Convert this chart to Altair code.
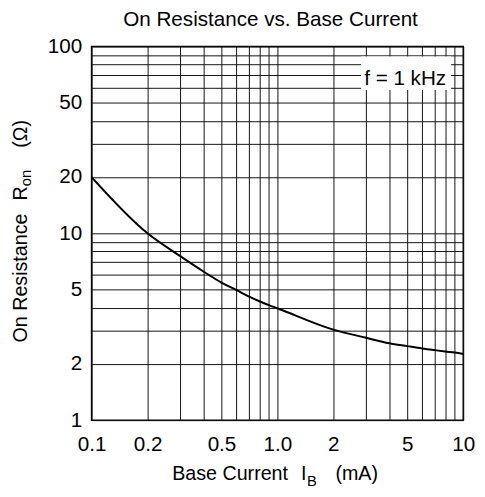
import altair as alt
import pandas as pd

# ---- data ----
current_ma = [0.1, 0.2, 0.3, 0.4, 0.5, 0.6, 0.7, 0.8, 0.9, 1.0, 2, 3, 4, 5, 6, 7, 8, 9, 10]
resistance = [20.0, 10.0, 7.55, 6.25, 5.45, 4.98, 4.6, 4.33, 4.13, 3.97, 3.05, 2.76, 2.58, 2.49, 2.42, 2.37, 2.33, 2.30, 2.26]

x_grid = [0.1, 0.2, 0.3, 0.4, 0.5, 0.6, 0.7, 0.8, 0.9, 1, 2, 3, 4, 5, 6, 7, 8, 9, 10]
y_grid = [1, 2, 3, 4, 5, 6, 7, 8, 9, 10, 20, 30, 40, 50, 60, 70, 80, 90, 100]
x_label_values = [0.1, 0.2, 0.5, 1, 2, 5, 10]
x_label_texts = ["0.1", "0.2", "0.5", "1.0", "2", "5", "10"]
y_label_values = [1, 2, 5, 10, 20, 50, 100]
y_label_texts = ["1", "2", "5", "10", "20", "50", "100"]

title_text = "On Resistance vs. Base Current"
note_text = "f = 1 kHz"

FONT = "Liberation Sans"
W, H = 378, 380


def label_expr(values, texts):
    expr = "''"
    for v, t in zip(reversed(values), reversed(texts)):
        expr = f"datum.value == {v} ? '{t}' : ({expr})"
    return expr


df = pd.DataFrame({"I": current_ma, "R": resistance})

xscale = alt.Scale(type="log", domain=[0.1, 10], nice=False)
yscale = alt.Scale(type="log", domain=[1, 100], nice=False)

xaxis = alt.Axis(
    values=x_grid, labelExpr=label_expr(x_label_values, x_label_texts), title=None,
    grid=True, gridColor="#111", gridWidth=1, gridOpacity=1, ticks=False, tickSize=0,
    domain=False, labelFont=FONT, labelFontSize=21, labelColor="#000",
    labelPadding=14, labelFlush=False, labelOverlap=False,
)
yaxis = alt.Axis(
    values=y_grid, labelExpr=label_expr(y_label_values, y_label_texts), title=None,
    grid=True, gridColor="#111", gridWidth=1, gridOpacity=1, ticks=False, tickSize=0,
    domain=False, labelFont=FONT, labelFontSize=21, labelColor="#000",
    labelPadding=10, labelFlush=False, labelOverlap=False,
)

curve = alt.Chart(df).mark_line(color="#000", strokeWidth=2, interpolate="monotone", clip=True).encode(
    x=alt.X("I:Q", scale=xscale, axis=xaxis),
    y=alt.Y("R:Q", scale=yscale, axis=yaxis),
)

# white box behind the note
box_df = pd.DataFrame({"x1": [2.82], "x2": [8.6], "y1": [58.5], "y2": [88.5]})
box = alt.Chart(box_df).mark_rect(color="white").encode(
    x=alt.X("x1:Q", scale=xscale), x2="x2:Q",
    y=alt.Y("y1:Q", scale=yscale), y2="y2:Q",
)

note_df = pd.DataFrame({"x": [4.87], "y": [62.6], "t": [note_text]})
note = alt.Chart(note_df).mark_text(font=FONT, fontSize=21, color="#000", align="center", baseline="alphabetic").encode(
    x=alt.X("x:Q", scale=xscale), y=alt.Y("y:Q", scale=yscale), text="t:N"
)


def txt(s, x, y, size=20, angle=0, align="left"):
    kw = dict(font=FONT, fontSize=size, color="#000", align=align, baseline="alphabetic")
    if angle:
        kw["angle"] = angle
    return alt.Chart(pd.DataFrame({"t": [s]})).mark_text(**kw).encode(
        x=alt.value(x), y=alt.value(y), text="t:N"
    )


texts = [
    txt(title_text, 182, -20.5, size=21, align="center"),
    # x title
    txt("Base Current", 82, 441),
    txt("I", 213, 441),
    txt("B", 219, 447, size=15),
    txt("(mA)", 248, 441),
    # y title
    txt("On Resistance", -65.5, 301, angle=270),
    txt("R", -65.5, 156.5, angle=270),
    txt("on", -61.5, 142, size=15, angle=270),
    txt("(Ω)", -65.5, 103, angle=270),
]

chart = alt.layer(curve, box, note, *texts).properties(
    width=W, height=H,
    autosize=alt.AutoSizeParams(type="none"),
    padding={"left": 85, "top": 35, "right": 14, "bottom": 74},
    background="white",
).configure_view(stroke="#000", strokeWidth=1.5)

chart.save("out.html", embed_options={"renderer": "svg", "actions": False})
